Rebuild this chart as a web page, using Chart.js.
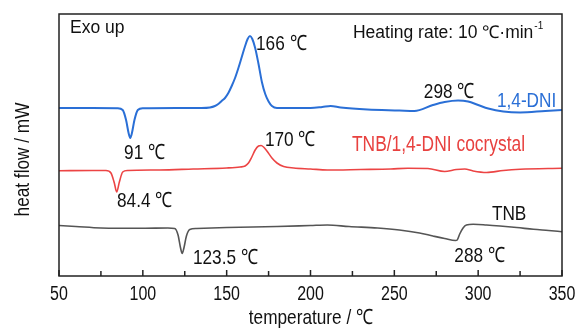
<!DOCTYPE html>
<html lang="en">
<head>
    <meta charset="UTF-8">
    <title>DSC curves</title>
    <script src="https://cdn.jsdelivr.net/npm/chart.js@4.4.0/dist/chart.umd.min.js"></script>
    <style>
        html, body { margin: 0; padding: 0; background: #fff; }
        #wrap { width: 578px; height: 329px; }
    </style>
</head>
<body>
    <div id="wrap"><canvas id="graphique" width="578" height="329"></canvas></div>

    <script>
        // 1,4-DNI (blue)
        const dniTemp = [50, 70, 85, 88, 90, 91.5, 92.5, 93.5, 95, 97, 100, 120, 135, 140, 143, 145, 147, 149, 151, 153, 155, 157, 159, 161, 162.5, 163.9, 165.3, 167, 169, 171, 173, 175, 177, 180, 190, 200, 207, 212, 218, 234, 253, 262, 273, 280, 288, 294, 300, 306, 315, 325, 340, 350];
        const dniFlow = [168, 168, 167.7, 166, 156, 143, 138, 143, 156, 166, 167.7, 168, 168, 168.5, 170, 172, 175, 178, 183, 190, 198, 208, 219, 230, 237, 240, 237, 228, 212, 194, 182, 174.5, 170, 168, 168, 168, 169, 170, 168.5, 166.5, 165.5, 165, 171, 174, 175.5, 174.5, 171, 167.5, 164.5, 163.5, 165, 166];

        // TNB/1,4-DNI cocrystal (red)
        const cocTemp = [50, 70, 78, 81, 83, 84.4, 86, 88, 91, 110, 130, 150, 158, 161, 163, 165, 167, 169, 170.5, 172, 174, 177, 180, 184, 190, 200, 210, 230, 248, 258, 270, 280, 287, 292, 297, 305, 315, 325, 350];
        const cocFlow = [105.3, 105.5, 105.5, 103, 93, 84, 94, 104, 105.5, 106, 107, 108, 109, 110, 113, 119, 126, 130, 130.5, 129, 125, 118, 113, 109.5, 108, 107, 106, 106.5, 107, 107.7, 107.5, 104.5, 106.5, 107, 105, 103.5, 105.5, 106.7, 107.7];

        // TNB (grey)
        const tnbTemp = [50, 60, 75, 100, 115, 119, 121, 122.5, 123.5, 124.5, 126, 128, 132, 150, 180, 200, 210, 223, 240, 253, 265, 273, 280, 286.5, 287.5, 289, 291, 293, 297, 305, 313, 323, 333, 342, 350];
        const tnbFlow = [50.5, 49.5, 48, 47.7, 48, 47.5, 41, 28, 22.5, 28, 40, 46.5, 47.5, 48.5, 49.5, 50.5, 51, 49.5, 48, 46, 43, 40, 37.5, 35.5, 36, 42, 48, 51, 51.7, 51, 50, 48.5, 46.7, 45.5, 44.3];

        const xTicks = [50, 100, 150, 200, 250, 300, 350];

        const SANS = "'Liberation Sans', Arial, sans-serif";
        const NARROW = 0.82; // Arial Narrow imité par compression horizontale

        // texte sur le graphique (x, y en coordonnées données, ligne de base)
        const labels = [
            { text: 'Exo up', x: 56.6, y: 242.7, size: 17.5, color: '#111', sx: 1 },
            { text: 'Heating rate: 10 \u2103\u00b7min', x: 225.3, y: 237.7, size: 17.5, color: '#111', sx: 1, sup: '-1' },
            { text: '166 \u2103', x: 167.5, y: 226, size: 21, color: '#111', sx: NARROW },
            { text: '298 \u2103', x: 267.6, y: 178, size: 21, color: '#111', sx: NARROW },
            { text: '1,4-DNI', x: 311.2, y: 169.5, size: 21, color: '#2a6fd6', sx: NARROW },
            { text: '91 \u2103', x: 88.8, y: 117, size: 21, color: '#111', sx: NARROW },
            { text: '170 \u2103', x: 172.8, y: 130, size: 21, color: '#111', sx: NARROW },
            { text: 'TNB/1,4-DNI cocrystal', x: 224.7, y: 125.5, size: 21.5, color: '#e8413f', sx: 0.81 },
            { text: '84.4 \u2103', x: 84.6, y: 69.5, size: 21, color: '#111', sx: NARROW },
            { text: '123.5 \u2103', x: 129.9, y: 12, size: 21, color: '#111', sx: NARROW },
            { text: 'TNB', x: 308.2, y: 56, size: 21, color: '#111', sx: NARROW },
            { text: '288 \u2103', x: 285.8, y: 14.5, size: 21, color: '#111', sx: NARROW }
        ];

        const toPts = (xs, ys) => xs.map((t, i) => ({ x: t, y: ys[i] }));

        function drawText(ctx, text, x, y, size, color, sx, align, rot) {
            ctx.save();
            ctx.translate(x, y);
            if (rot) ctx.rotate(rot);
            ctx.scale(sx, 1);
            ctx.font = size + 'px ' + SANS;
            ctx.fillStyle = color;
            ctx.textAlign = align;
            ctx.textBaseline = 'alphabetic';
            ctx.fillText(text, 0, 0);
            const w = ctx.measureText(text).width * sx;
            ctx.restore();
            return w;
        }

        const framePlugin = {
            id: 'frame',
            afterDatasetsDraw(chart) {
                const { ctx, chartArea: a, scales } = chart;
                ctx.save();
                ctx.strokeStyle = '#222';
                ctx.lineWidth = 1.5;
                ctx.strokeRect(a.left, a.top, a.right - a.left, a.bottom - a.top);
                // graduations vers l'intérieur
                scales.x.ticks.forEach(tk => {
                    const px = scales.x.getPixelForValue(tk.value);
                    const len = tk.value % 50 === 0 ? 6 : 5;
                    ctx.beginPath();
                    ctx.moveTo(px, a.bottom);
                    ctx.lineTo(px, a.bottom - len);
                    ctx.stroke();
                });
                ctx.restore();

                // étiquettes de l'axe x
                xTicks.forEach(v => {
                    drawText(ctx, String(v), scales.x.getPixelForValue(v), a.bottom + 24, 20, '#111', 0.8, 'center');
                });
                // titres des axes
                drawText(ctx, 'temperature / \u2103', (a.left + a.right) / 2 + 0.5, 324, 21, '#111', NARROW, 'center');
                drawText(ctx, 'heat flow / mW', 29, 159.5, 21, '#111', NARROW, 'center', -Math.PI / 2);

                // annotations
                labels.forEach(l => {
                    const px = scales.x.getPixelForValue(l.x);
                    const py = scales.y.getPixelForValue(l.y);
                    const w = drawText(ctx, l.text, px, py, l.size, l.color, l.sx, 'left');
                    if (l.sup) drawText(ctx, l.sup, px + w + 1, py - 9, 10, l.color, 1, 'left');
                });
            }
        };

        const ctx = document.getElementById('graphique').getContext('2d');
        new Chart(ctx, {
            type: 'line',
            data: {
                datasets: [
                    { label: '1,4-DNI', data: toPts(dniTemp, dniFlow), borderColor: '#2a6fd6', borderWidth: 2 },
                    { label: 'TNB/1,4-DNI cocrystal', data: toPts(cocTemp, cocFlow), borderColor: '#ec4444', borderWidth: 1.6 },
                    { label: 'TNB', data: toPts(tnbTemp, tnbFlow), borderColor: '#555', borderWidth: 1.6 }
                ]
            },
            options: {
                responsive: false,
                animation: false,
                layout: { padding: { top: 14, right: 16, left: 0, bottom: 0 } },
                elements: { point: { radius: 0 }, line: { tension: 0.4, cubicInterpolationMode: 'monotone', fill: false } },
                plugins: { legend: { display: false }, tooltip: { enabled: false } },
                scales: {
                    x: {
                        type: 'linear',
                        min: 50,
                        max: 350,
                        grid: { display: false, drawTicks: false },
                        border: { display: false },
                        ticks: { stepSize: 25, display: false },
                        afterFit: s => { s.height = 53; s.paddingLeft = 0; s.paddingRight = 0; }
                    },
                    y: {
                        min: 0,
                        max: 262,
                        grid: { display: false, drawTicks: false },
                        border: { display: false },
                        ticks: { display: false },
                        afterFit: s => { s.width = 59; s.paddingTop = 0; s.paddingBottom = 0; }
                    }
                }
            },
            plugins: [framePlugin]
        });
    </script>
</body>
</html>
